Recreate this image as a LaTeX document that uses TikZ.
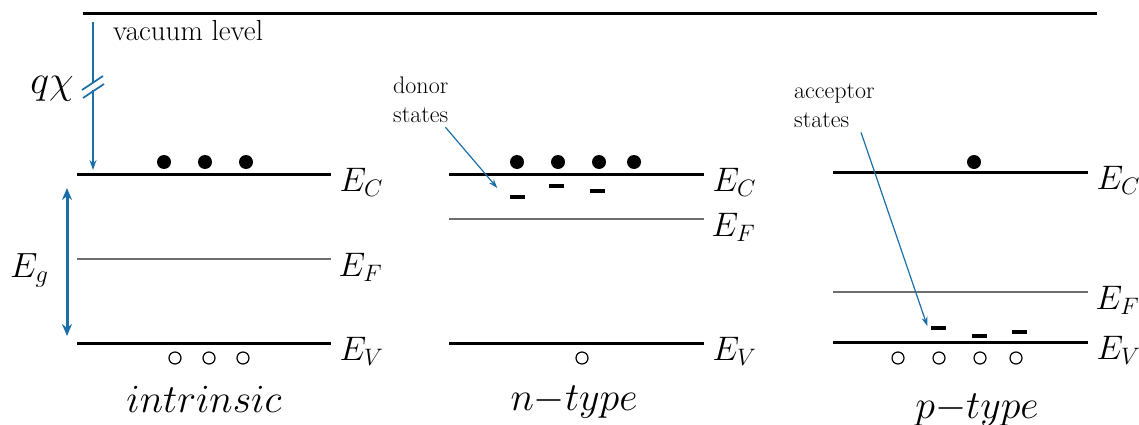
\RequirePackage{fix-cm}
\documentclass[tikz,border=0pt]{standalone}
\usetikzlibrary{arrows.meta}
\definecolor{bandblue}{HTML}{1B6FA8}
\definecolor{fermigray}{HTML}{6E6E6E}

\begin{document}
\begin{tikzpicture}[x=1pt,y=-1pt,
  band/.style={line width=3pt},
  fermi/.style={line width=1.3pt,fermigray},
  lvl/.style={anchor=base west,inner sep=0pt,xshift=7pt,yshift=-17pt,text=black,
    font=\fontsize{34}{40}\selectfont},
  elec/.style={circle,fill=black,inner sep=0pt,minimum size=14pt},
  hole/.style={circle,draw=black,line width=1.2pt,inner sep=0pt,minimum size=12pt},
  dstate/.style={rectangle,fill=black,inner sep=0pt,minimum width=15pt,minimum height=3.5pt},
  ptr/.style={bandblue,line width=1.2pt,-{Stealth[length=9pt,width=6pt]}},
  note/.style={anchor=north west,inner sep=0pt,align=left,font=\fontsize{24}{29}\selectfont},
  kind/.style={anchor=base,inner sep=0pt,font=\fontsize{40}{48}\selectfont}]

\useasboundingbox (0,0) rectangle (1139,425);

% Vacuum level
\coordinate (vac1) at (83,14);
\coordinate (vac2) at (1097,14);
\draw[band] (vac1) -- (vac2);
\node[anchor=base west,inner sep=0pt,font=\fontsize{29}{33}\selectfont]
  (vaclab) at (113,41) {vacuum level};

% ===== INTRINSIC =====
\coordinate (iC1) at (77,174);
\coordinate (iC2) at (331,174);
\coordinate (iF1) at (77,259);
\coordinate (iF2) at (331,259);
\coordinate (iV1) at (77,343);
\coordinate (iV2) at (331,343);
\draw[band] (iC1) -- (iC2) node[lvl] (iClab) {$E_C$};
\draw[fermi] (iF1) -- (iF2) node[lvl] (iFlab) {$E_F$};
\draw[band] (iV1) -- (iV2) node[lvl] (iVlab) {$E_V$};

\node[elec] (ie1) at (164,162) {};
\node[elec] (ie2) at (205,162) {};
\node[elec] (ie3) at (246,162) {};
\node[hole] (ih1) at (175,358) {};
\node[hole] (ih2) at (209,358) {};
\node[hole] (ih3) at (243,358) {};

% Electron affinity arrow (broken)
\coordinate (qtop) at (93,22);
\coordinate (qcut1) at (93,83);
\coordinate (qcut2) at (93,90);
\coordinate (qbot) at (93,170);
\draw[bandblue,line width=2pt] (qtop) -- (qcut1);
\draw[bandblue,line width=2pt,-{Stealth[length=10pt,width=7pt]}] (qcut2) -- (qbot);
\draw[bandblue,line width=1.8pt] (82,90) -- (103,76);
\draw[bandblue,line width=1.8pt] (83,98) -- (104,84);
\node[anchor=base east,inner sep=0pt,font=\fontsize{40}{46}\selectfont]
  (qlab) at (74,94) {$q\chi$};

% Band gap arrow
\coordinate (egtop) at (67,188);
\coordinate (egbot) at (67,336);
\draw[bandblue,line width=3pt,
  {Stealth[length=12pt,width=10pt]}-{Stealth[length=12pt,width=10pt]}] (egtop) -- (egbot);
\node[anchor=base west,inner sep=0pt,font=\fontsize{35}{40}\selectfont]
  (eglab) at (10,277) {$E_g$};

\node[kind] (ilab) at (204,412) {$intrinsic$};

% ===== N-TYPE =====
\coordinate (nC1) at (449,174);
\coordinate (nC2) at (704,174);
\coordinate (nF1) at (449,219);
\coordinate (nF2) at (704,219);
\coordinate (nV1) at (449,343);
\coordinate (nV2) at (704,343);
\draw[band] (nC1) -- (nC2) node[lvl] (nClab) {$E_C$};
\draw[fermi] (nF1) -- (nF2) node[lvl] (nFlab) {$E_F$};
\draw[band] (nV1) -- (nV2) node[lvl] (nVlab) {$E_V$};

\node[elec] (ne1) at (517,162) {};
\node[elec] (ne2) at (558,162) {};
\node[elec] (ne3) at (599,162) {};
\node[elec] (ne4) at (634,162) {};
\node[dstate] (nd1) at (517,197) {};
\node[dstate] (nd2) at (556,186) {};
\node[dstate] (nd3) at (597,191) {};
\node[hole] (nh1) at (582,358) {};

\node[note] (donlab) at (393,77) {donor\\states};
\coordinate (dontail) at ([xshift=-3pt,yshift=-4pt]donlab.south east);
\coordinate (dontip) at ([xshift=-12pt,yshift=9pt]nd1.west);
\draw[ptr] (dontail) -- (dontip);

\node[kind] (nlab) at (574,410) {$n{-}type$};

% ===== P-TYPE =====
\coordinate (pC1) at (833,172);
\coordinate (pC2) at (1088,172);
\coordinate (pF1) at (833,292);
\coordinate (pF2) at (1088,292);
\coordinate (pV1) at (833,342);
\coordinate (pV2) at (1088,342);
\draw[band] (pC1) -- (pC2) node[lvl] (pClab) {$E_C$};
\draw[fermi] (pF1) -- (pF2) node[lvl] (pFlab) {$E_F$};
\draw[band] (pV1) -- (pV2) node[lvl] (pVlab) {$E_V$};

\node[elec] (pe1) at (974,162) {};
\node[dstate] (pa1) at (938,328) {};
\node[dstate] (pa2) at (979,336) {};
\node[dstate] (pa3) at (1019,332) {};
\node[hole] (ph1) at (898,358) {};
\node[hole] (ph2) at (939,358) {};
\node[hole] (ph3) at (980,358) {};
\node[hole] (ph4) at (1016,358) {};

\node[note] (acclab) at (794,84) {acceptor\\states};
\coordinate (acctail) at ([xshift=67pt,yshift=-4pt]acclab.south west);
\coordinate (acctip) at ([xshift=-3pt,yshift=2pt]pa1.west);
\draw[ptr] (acctail) -- (acctip);

\node[kind] (plab) at (977,418) {$p{-}type$};

\end{tikzpicture}
\end{document}
